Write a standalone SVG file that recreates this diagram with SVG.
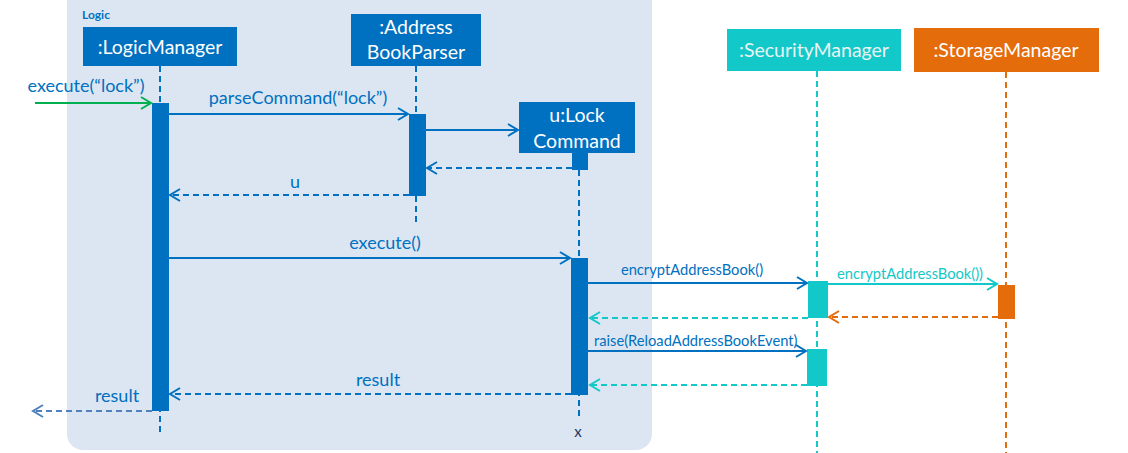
<svg xmlns="http://www.w3.org/2000/svg" width="1128" height="453" viewBox="0 0 1128 453">
<style>
text{font-family:Lato,"Liberation Sans",sans-serif}
.hdr{font-size:19.5px;fill:#fff;text-anchor:middle}
.lbl{font-size:18px;fill:#0070C0;text-anchor:middle}
.sm{font-size:14.7px;fill:#0070C0;text-anchor:middle}
.life{stroke-width:2;stroke-dasharray:6,4;fill:none}
.msg{stroke-width:2;fill:none}
.ret{stroke-width:2;stroke-dasharray:6,4;fill:none}
</style>
<defs>
<marker id="ab" markerUnits="userSpaceOnUse" markerWidth="14" markerHeight="14" refX="12" refY="7" orient="auto"><path d="M2,1 L12,7 L2,13" fill="none" stroke="#0070C0" stroke-width="2"/></marker>
<marker id="ag" markerUnits="userSpaceOnUse" markerWidth="14" markerHeight="14" refX="12" refY="7" orient="auto"><path d="M2,1 L12,7 L2,13" fill="none" stroke="#00B050" stroke-width="2"/></marker>
<marker id="at" markerUnits="userSpaceOnUse" markerWidth="14" markerHeight="14" refX="12" refY="7" orient="auto"><path d="M2,1 L12,7 L2,13" fill="none" stroke="#12C8C8" stroke-width="2"/></marker>
<marker id="ao" markerUnits="userSpaceOnUse" markerWidth="14" markerHeight="14" refX="12" refY="7" orient="auto"><path d="M2,1 L12,7 L2,13" fill="none" stroke="#E46C0A" stroke-width="2"/></marker>
<marker id="al" markerUnits="userSpaceOnUse" markerWidth="14" markerHeight="14" refX="12" refY="7" orient="auto"><path d="M2,1 L12,7 L2,13" fill="none" stroke="#4F81BD" stroke-width="2"/></marker>
</defs>
<g id="logic-frame">
<rect x="67" y="-15" width="585" height="465" rx="16" fill="#DCE6F2"/>
<text x="82" y="19" style="font-size:12px;font-weight:bold;fill:#0070C0">Logic</text>
</g>
<g id="lifelines">
<line class="life" x1="160" y1="66" x2="160" y2="432" stroke="#0070C0"/>
<line class="life" x1="416" y1="66" x2="416" y2="222" stroke="#0070C0"/>
<line class="life" x1="579" y1="170" x2="579" y2="420" stroke="#0070C0"/>
<line class="life" x1="817" y1="71" x2="817" y2="453" stroke="#12C8C8"/>
<line class="life" x1="1006" y1="72" x2="1006" y2="453" stroke="#E46C0A"/>
</g>
<g id="LogicManager">
<rect x="83" y="27" width="154" height="39" fill="#0070C0"/>
<text class="hdr" x="160" y="54">:LogicManager</text>
<rect x="152" y="103" width="17" height="308" fill="#0070C0"/>
</g>
<g id="AddressBookParser">
<rect x="351" y="14" width="130" height="52" fill="#0070C0"/>
<text class="hdr" x="416" y="34">:Address</text>
<text class="hdr" x="416" y="59">BookParser</text>
<rect x="409" y="114" width="17" height="82" fill="#0070C0"/>
</g>
<g id="LockCommand">
<rect x="519" y="102" width="116" height="51" fill="#0070C0"/>
<text class="hdr" x="577" y="122">u:Lock</text>
<text class="hdr" x="577" y="148">Command</text>
<rect x="572" y="153" width="16" height="17" fill="#0070C0"/>
<rect x="571" y="258" width="17" height="137" fill="#0070C0"/>
<text x="578" y="437" style="font-size:15px;fill:#1F3864;text-anchor:middle">x</text>
</g>
<g id="SecurityManager">
<rect x="727" y="29" width="174" height="42" fill="#12C8C8"/>
<text class="hdr" x="814" y="57" style="fill:#E8F4F4">:SecurityManager</text>
<rect x="808" y="281" width="20" height="37" fill="#12C8C8"/>
<rect x="807" y="349" width="20" height="37" fill="#12C8C8"/>
</g>
<g id="StorageManager">
<rect x="914" y="28" width="185" height="44" fill="#E46C0A"/>
<text class="hdr" x="1006" y="57">:StorageManager</text>
<rect x="998" y="285" width="17" height="34" fill="#E46C0A"/>
</g>
<g id="connectors">
<line class="msg" x1="35" y1="103" x2="151" y2="103" stroke="#00B050" marker-end="url(#ag)"/>
<text class="lbl" x="86" y="92">execute(“lock”)</text>
<line class="msg" x1="169" y1="114" x2="408" y2="114" stroke="#0070C0" marker-end="url(#ab)"/>
<text class="lbl" x="298" y="104">parseCommand(“lock”)</text>
<line class="msg" x1="426" y1="130" x2="518" y2="130" stroke="#0070C0" marker-end="url(#ab)"/>
<line class="ret" x1="572" y1="168" x2="427" y2="168" stroke="#0070C0" marker-end="url(#ab)"/>
<line class="ret" x1="409" y1="195" x2="170" y2="195" stroke="#0070C0" marker-end="url(#ab)"/>
<text class="lbl" x="295" y="188">u</text>
<line class="msg" x1="169" y1="258" x2="570" y2="258" stroke="#0070C0" marker-end="url(#ab)"/>
<text class="lbl" x="385" y="249">execute()</text>
<line class="msg" x1="588" y1="283" x2="807" y2="283" stroke="#0070C0" marker-end="url(#ab)"/>
<text class="sm" x="692" y="275">encryptAddressBook()</text>
<line class="msg" x1="828" y1="284" x2="997" y2="284" stroke="#12C8C8" marker-end="url(#at)"/>
<text class="sm" x="910" y="279" style="fill:#12C8C8">encryptAddressBook())</text>
<line class="ret" x1="998" y1="317" x2="829" y2="317" stroke="#E46C0A" marker-end="url(#ao)"/>
<line class="ret" x1="808" y1="318" x2="590" y2="318" stroke="#12C8C8" marker-end="url(#at)"/>
<line class="msg" x1="588" y1="351" x2="806" y2="351" stroke="#0070C0" marker-end="url(#ab)"/>
<text class="sm" x="594" y="346" style="text-anchor:start">raise(ReloadAddressBookEvent)</text>
<line class="ret" x1="807" y1="385" x2="590" y2="385" stroke="#12C8C8" marker-end="url(#at)"/>
<line class="ret" x1="571" y1="394" x2="170" y2="394" stroke="#0070C0" marker-end="url(#ab)"/>
<text class="lbl" x="378" y="386">result</text>
<line class="ret" x1="152" y1="411" x2="33" y2="411" stroke="#4F81BD" marker-end="url(#al)"/>
<text class="lbl" x="117" y="402">result</text>
</g>
</svg>
